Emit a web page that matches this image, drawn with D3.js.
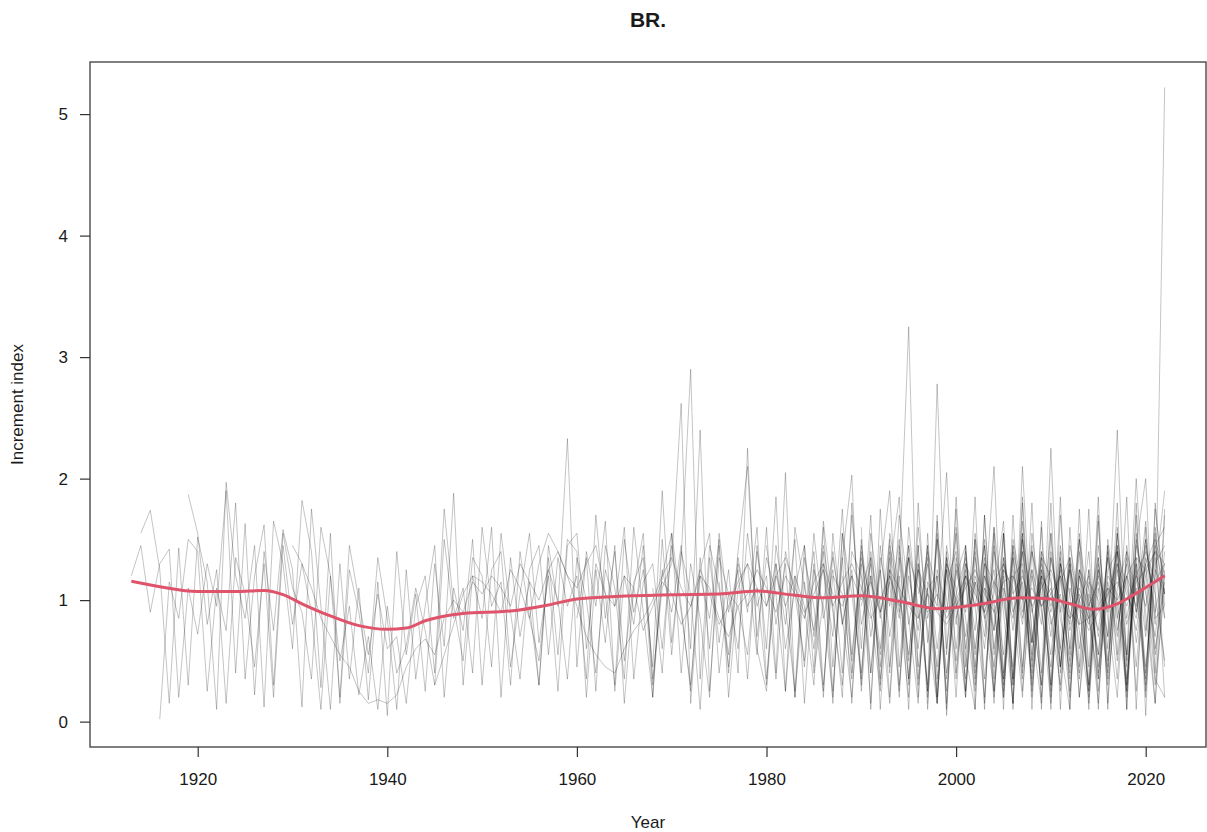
<html>
<head>
  <meta charset="UTF-8">
  <title>BR.</title>
  <script src="https://d3js.org/d3.v7.min.js"></script>
</head>
<style>
body { margin: 0; background: #fff; }
text { font-family: "Liberation Sans", Arial, sans-serif; fill: #1a1a1a; }
.series { fill: none; stroke: #000; stroke-opacity: 0.23; stroke-width: 1; stroke-linejoin: round; }
</style>
<body>
<script>

var width = 1207,
    height = 832;

// first year of each sample series
var startYears = [1913, 1914, 1916, 1919, 1930, 1945, 1955, 1960, 1968, 1975, 1980,
                  1984, 1986, 1988, 1990, 1992, 1994, 1996, 1998, 2000, 2003, 2006,
                  1985, 1990, 1997, 2001];

var s01 = [1.20,1.45,0.90,1.30,1.42,0.20,1.10,
  0.72,1.30,0.95,1.90,0.40,1.63,0.22,1.40,0.75,1.58,
  1.25,0.12,1.75,0.95,0.10,1.30,0.35,1.10,0.18,1.15,
  0.05,1.40,0.55,1.05,0.25,1.30,0.62,1.88,0.30,1.20,
  0.85,1.60,0.20,1.35,0.70,1.15,0.30,1.45,0.95,2.33,
  0.45,1.40,0.95,1.65,0.25,1.20,0.80,1.45,0.35,1.10,
  1.30,2.62,0.15,1.20,0.85,1.50,0.40,1.30,0.95,1.10,
  0.30,1.45,0.95,1.20,0.45,1.30,0.20,1.55,0.80,1.25,
  0.35,1.40,0.90,1.15,0.25,1.60,0.85,1.30,0.20,1.45,
  0.95,1.20,0.40,1.35,0.75,1.55,0.30,1.40,0.90,1.20,
  0.25,1.30,1.05,0.40,1.25,0.70,1.10,0.35,1.45,0.90,
  1.30,0.55,1.20];
var s02 = [1.55,1.74,1.25,0.15,1.43,0.30,
  1.52,1.15,0.10,1.97,1.20,0.85,1.45,0.12,1.65,1.30,
  0.60,1.82,1.40,0.28,1.55,0.15,1.25,0.90,0.40,1.35,
  0.85,0.10,1.25,0.35,0.95,1.45,0.20,1.10,0.75,1.50,
  0.30,1.25,1.40,0.45,1.05,1.55,0.65,1.20,0.25,1.45,
  1.55,0.60,1.30,1.05,0.30,1.50,0.90,1.25,0.45,1.90,
  0.65,1.35,2.90,0.35,1.45,1.10,0.55,1.40,2.10,0.70,
  1.35,1.05,0.25,1.60,1.10,0.75,1.45,0.90,0.30,1.40,
  1.20,0.40,1.35,0.95,1.50,0.30,1.25,1.05,0.45,1.35,
  0.35,1.30,1.10,0.60,1.45,0.25,1.20,1.30,0.55,1.40,
  1.15,0.45,1.30,0.20,0.95,1.35,0.50,1.25,0.80,1.10,
  0.40,1.45,1.05];
var s03 = [0.02,1.15,0.85,1.50,
  1.40,0.25,1.10,0.75,1.80,0.35,1.20,1.62,0.30,1.55,
  1.10,0.90,0.35,1.60,1.20,0.20,1.45,1.00,0.55,1.05,
  0.60,0.70,0.15,0.95,1.20,0.40,1.75,0.95,0.50,1.35,
  1.20,0.45,1.55,0.90,0.35,1.25,1.45,0.55,1.35,0.95,
  1.20,0.35,1.70,0.85,1.40,0.50,1.15,1.35,0.20,1.25,
  0.90,1.45,0.60,2.40,0.25,1.35,1.05,0.60,1.55,0.95,
  1.20,0.35,1.40,1.05,0.50,1.55,0.85,1.25,0.40,1.70,
  0.80,1.20,0.35,1.45,1.05,0.55,1.30,0.25,2.78,0.60,
  1.25,0.90,1.40,0.35,1.15,1.00,0.45,1.50,0.95,0.30,
  1.35,0.85,0.40,1.25,1.00,0.55,1.35,0.90,0.25,1.50,
  1.05,0.70,1.40];
var s04 = [1.87,
  1.55,0.80,1.25,0.15,1.35,1.05,0.45,1.30,0.20,1.45,
  0.80,1.30,0.90,0.10,1.20,0.50,0.95,0.22,0.70,0.10,
  0.95,0.40,0.62,1.10,0.75,0.30,1.50,0.85,1.10,0.40,
  1.60,0.95,1.15,0.30,1.40,0.85,0.50,1.25,1.00,0.35,
  1.35,1.00,0.40,1.25,0.95,1.60,0.35,1.15,1.30,0.60,
  1.45,0.90,0.30,1.25,1.55,0.40,1.05,0.95,0.55,1.40,
  0.95,1.30,0.60,1.10,1.45,0.40,1.00,1.35,0.85,0.20,
  1.35,1.00,0.55,1.25,0.90,1.35,0.45,1.10,1.20,0.40,
  1.05,1.35,0.60,1.20,0.90,0.35,1.40,1.05,0.50,1.30,
  0.90,1.25,0.35,1.00,1.20,0.45,1.25,1.40,0.55,1.15,
  1.25,0.30,1.10];
var s05 = [1.45,1.30,1.10,0.85,0.70,0.55,0.45,0.25,0.15,0.18,
  0.15,0.22,0.45,0.60,0.68,0.55,0.85,1.00,0.90,1.15,
  1.05,1.20,1.10,0.95,1.30,1.15,1.00,1.25,1.40,1.20,
  1.10,1.30,1.45,1.05,0.95,1.20,1.10,0.75,0.95,1.15,
  1.05,0.80,0.95,1.20,1.10,0.85,0.70,0.95,1.05,1.25,
  1.10,0.90,1.20,1.05,0.85,1.15,1.30,1.05,0.95,1.20,
  1.00,1.15,0.90,1.25,1.10,0.95,0.85,1.05,0.90,0.80,
  0.95,1.10,1.25,1.05,0.90,1.15,1.20,1.00,1.10,0.95,
  1.05,1.20,0.90,0.80,0.85,0.95,1.10,1.00,1.20,1.35,
  1.25,1.40,1.30];
var s06 = [0.30,0.55,0.80,1.05,1.20,
  1.15,1.05,0.90,1.25,1.10,0.85,1.30,1.55,1.40,1.20,
  0.95,0.70,0.55,0.45,0.40,0.60,0.75,0.85,1.00,1.20,
  1.35,1.10,0.95,1.25,1.05,0.80,0.95,1.15,1.30,1.10,
  0.95,1.20,1.35,1.10,0.90,1.05,1.25,0.95,1.15,1.30,
  1.10,0.85,1.00,1.20,0.95,1.35,1.10,0.90,1.05,0.85,
  1.00,1.20,1.05,0.90,1.15,1.30,1.05,1.20,0.95,1.10,
  1.25,1.00,0.85,0.95,0.75,0.90,1.05,1.15,0.95,1.20,
  1.40,1.15,1.30];
var s07 = [0.95,0.30,1.35,0.55,1.50,
  1.40,0.20,1.25,0.65,1.45,0.15,1.10,1.55,0.30,1.20,
  1.55,0.40,1.30,0.85,0.20,1.55,0.90,1.25,0.35,1.45,
  0.60,1.85,0.25,1.20,0.95,0.30,1.60,0.45,1.35,0.15,
  1.50,0.40,1.25,0.20,1.45,0.85,0.15,1.55,0.35,1.25,
  0.20,1.45,0.55,1.30,0.15,1.55,0.35,1.25,0.65,1.40,
  0.20,1.35,0.60,1.50,0.15,1.10,0.45,1.40,0.20,1.30,
  0.35,1.55,0.20];
var s08 = [0.85,1.35,0.25,1.45,1.10,0.35,1.60,0.90,0.20,1.50,
  0.55,1.40,1.05,0.10,1.35,0.65,1.25,0.40,2.25,0.60,
  0.25,1.30,0.80,1.50,0.15,1.25,0.95,0.20,1.55,0.55,
  1.30,0.15,1.45,0.70,1.25,3.25,0.35,1.10,0.15,1.35,
  0.90,0.20,1.50,0.85,0.25,1.35,0.75,1.55,0.20,1.25,
  0.70,1.40,0.25,1.20,0.90,0.15,1.45,0.75,1.30,0.25,
  1.45,0.90,1.30];
var s09 = [1.10,0.40,
  1.55,0.95,0.25,1.35,0.60,1.45,0.20,1.10,1.30,0.55,
  1.60,0.40,2.05,0.20,1.35,0.95,0.25,1.40,0.80,1.20,
  0.30,1.55,0.95,0.15,1.35,0.50,1.45,0.20,1.25,0.90,
  1.55,0.25,1.15,0.70,1.60,0.20,1.35,0.45,1.25,0.95,
  0.15,1.45,0.85,1.25,0.25,1.35,0.60,1.55,0.35,1.20,
  0.95,1.35,0.45];
var s10 = [1.15,0.45,1.35,0.90,1.60,
  0.35,1.20,0.95,0.25,1.45,0.70,1.30,0.15,1.55,1.05,
  0.40,1.35,0.85,1.50,0.30,1.20,0.75,1.45,0.20,1.30,
  1.00,0.35,1.55,0.90,1.25,0.40,1.45,0.25,1.20,0.80,
  1.55,0.45,1.25,0.95,0.30,1.45,0.85,0.20,1.40,1.05,
  0.30,1.60,0.85];
var s11 = [1.45,0.80,1.30,0.20,1.15,0.60,1.40,0.25,1.35,2.03,
  0.25,1.20,0.60,1.35,0.20,1.45,0.95,0.30,1.55,0.15,
  1.35,0.85,0.25,1.45,0.60,1.20,0.15,1.50,0.95,0.30,
  2.25,0.40,1.30,0.75,0.20,1.25,0.90,1.45,0.30,1.35,
  0.70,1.45,1.60];
var s12 = [0.85,1.40,0.30,1.20,1.05,0.35,
  1.45,0.90,0.25,1.55,1.10,0.35,1.30,0.75,0.15,1.40,
  0.60,1.30,0.95,0.20,1.40,1.05,0.35,1.55,0.25,1.15,
  0.85,0.30,1.45,1.00,0.25,1.30,0.70,2.40,0.45,1.25,
  0.25,1.20,1.90];
var s13 = [1.25,0.70,1.75,0.40,
  1.10,1.35,0.30,1.20,0.85,1.45,0.20,1.40,1.05,0.25,
  1.20,1.45,0.35,1.10,0.95,0.20,1.50,1.10,0.40,1.35,
  1.20,0.25,1.10,0.80,1.40,0.35,1.20,1.05,0.30,1.45,
  1.10,0.15,1.25];
var s14 = [1.20,0.50,
  1.40,0.70,1.25,1.90,0.45,1.35,0.30,1.15,0.95,2.05,
  0.40,1.25,0.75,1.50,0.25,1.10,0.85,1.40,0.30,1.20,
  1.05,0.45,1.35,0.20,1.15,1.00,0.40,1.55,0.85,1.30,
  0.45,1.25,1.05];
var s15 = [0.95,1.30,0.45,1.40,0.95,0.20,1.60,0.85,1.20,0.35,
  1.30,0.70,1.15,0.95,2.10,0.35,1.20,0.80,1.45,0.20,
  1.40,0.90,1.25,0.35,1.05,0.75,1.35,0.50,1.20,0.95,
  1.50,0.85,0.95];
var s16 = [1.25,0.40,1.70,1.05,0.60,1.45,0.15,1.30,
  1.10,0.20,1.35,0.85,1.05,1.65,0.30,2.10,0.65,1.20,
  0.30,1.30,0.75,1.10,0.85,0.35,1.50,0.95,0.55,2.00,
  0.75,1.30,1.45];
var s17 = [1.40,0.80,1.25,0.25,1.50,1.00,
  0.50,1.20,0.95,1.45,0.20,1.25,1.10,0.35,1.55,0.90,
  0.45,1.15,1.35,0.60,1.25,0.40,1.05,1.30,0.25,1.45,
  2.00,0.40,1.75];
var s18 = [1.05,1.35,0.60,1.25,
  0.80,1.40,0.45,1.20,1.00,0.30,1.35,0.90,1.25,0.40,
  1.35,0.95,0.20,1.25,1.10,0.55,1.40,0.85,1.20,0.45,
  1.35,1.05,0.50];
var s19 = [0.30,1.15,
  1.40,0.60,1.20,0.90,0.45,1.35,0.95,0.20,1.40,1.05,
  0.55,1.30,0.80,1.50,0.95,0.25,1.15,0.70,1.35,0.90,
  1.65,0.60,1.15];
var s20 = [0.85,1.15,0.30,1.30,1.15,0.55,1.45,1.00,0.35,1.25,
  0.95,1.20,0.45,1.05,0.85,1.25,0.30,1.10,1.40,0.65,
  1.20,1.40,0.85];
var s21 = [1.10,0.75,1.30,0.90,1.15,0.65,1.35,
  0.80,1.05,0.50,1.20,0.95,1.15,0.70,1.30,1.05,0.85,
  1.50,0.80,5.22];
var s22 = [1.25,0.85,1.40,0.95,
  1.10,0.60,1.35,1.00,0.80,1.20,0.95,1.40,1.10,0.75,
  1.30,1.50,1.20];
var s23 = [0.45,1.65,0.95,0.20,1.80,
  0.60,1.70,0.10,1.25,1.85,0.35,1.45,0.10,1.65,0.55,
  1.75,0.25,1.50,0.10,1.60,0.90,0.15,1.85,0.45,1.60,
  0.10,1.70,0.55,1.40,0.10,1.65,0.35,1.80,0.10,1.55,
  0.90,0.15,1.70];
var s24 = [1.60,0.10,1.75,0.45,1.20,0.10,1.80,0.65,1.50,0.10,
  1.85,0.55,0.10,1.70,0.35,1.55,0.10,1.65,0.75,0.15,
  1.80,0.10,1.60,0.45,1.75,0.10,1.45,0.55,1.85,0.10,
  1.60,0.35,0.20];
var s25 = [0.15,1.70,0.05,
  1.60,0.45,1.85,0.15,1.55,0.10,1.70,0.40,1.80,0.10,
  1.55,0.60,0.10,1.75,0.30,1.85,0.10,1.60,0.50,1.70,
  0.05,1.80,0.95];
var s26 = [1.45,0.10,1.70,0.55,1.25,0.15,1.80,0.10,1.65,
  0.30,1.85,0.10,1.55,0.45,1.70,0.15,1.45,0.10,1.80,
  0.20,1.75,1.05];

var seriesValues = [s01, s02, s03, s04, s05, s06, s07, s08, s09, s10, s11, s12, s13,
                    s14, s15, s16, s17, s18, s19, s20, s21, s22, s23, s24, s25, s26];

// smoothed mean (red spline)
var smoothYears = [1913, 1916, 1920, 1924, 1927, 1929, 1931, 1934, 1937, 1940, 1942, 1944,
                   1948, 1953, 1957, 1960, 1964, 1970, 1975, 1979, 1983, 1986, 1990, 1994,
                   1998, 2002, 2007, 2010, 2012, 2014.5, 2017, 2019.3, 2022];
var smoothVals  = [1.155, 1.11, 1.07, 1.07, 1.08, 1.045, 0.97, 0.87, 0.79, 0.76, 0.77, 0.83,
                   0.89, 0.91, 0.96, 1.01, 1.03, 1.045, 1.05, 1.075, 1.04, 1.02, 1.035, 0.99,
                   0.93, 0.96, 1.02, 1.01, 0.97, 0.925, 0.97, 1.07, 1.20];

var xTicks = [1920, 1940, 1960, 1980, 2000, 2020];
var yTicks = [0, 1, 2, 3, 4, 5];

var plotLeft = 90, plotRight = 1206, plotTop = 62, plotBottom = 747;

var series = seriesValues.map(function(vals, i) {
  return vals.map(function(v, j) { return {year: startYears[i] + j, value: v}; });
});

var yMax = d3.max(seriesValues, function(s) { return d3.max(s); });
var x0 = 1913, x1 = 2022, xpad = (x1 - x0) * 0.04;

var x = d3.scaleLinear()
  .domain([x0 - xpad, x1 + xpad])
  .range([plotLeft, plotRight]);

var y = d3.scaleLinear()
  .domain([-yMax * 0.04, yMax * 1.04])
  .range([plotBottom, plotTop]);

var svg = d3.select('body')
  .append('svg')
  .attr('width', width)
  .attr('height', height);

var line = d3.line()
  .x(function(d) { return x(d.year); })
  .y(function(d) { return y(d.value); });

svg.append('g')
  .selectAll('path')
  .data(series)
  .enter()
  .append('path')
  .attr('class', 'series')
  .attr('d', line);

var smooth = d3.line()
  .x(function(d) { return x(d[0]); })
  .y(function(d) { return y(d[1]); })
  .curve(d3.curveMonotoneX);

svg.append('path')
  .datum(d3.zip(smoothYears, smoothVals))
  .attr('fill', 'none')
  .attr('stroke', '#DF536B')
  .attr('stroke-width', 3)
  .attr('d', smooth);

// box
svg.append('rect')
  .attr('x', plotLeft)
  .attr('y', plotTop)
  .attr('width', plotRight - plotLeft)
  .attr('height', plotBottom - plotTop)
  .attr('fill', 'none')
  .attr('stroke', '#555')
  .attr('stroke-width', 1.5);

var xAxis = svg.append('g')
  .attr('transform', 'translate(0,' + plotBottom + ')')
  .call(d3.axisBottom(x).tickValues(xTicks).tickFormat(d3.format('d')).tickSizeInner(10).tickSizeOuter(0).tickPadding(16));

var yAxis = svg.append('g')
  .attr('transform', 'translate(' + plotLeft + ',0)')
  .call(d3.axisLeft(y).tickValues(yTicks).tickFormat(d3.format('d')).tickSizeInner(10).tickSizeOuter(0).tickPadding(12));

[xAxis, yAxis].forEach(function(a) {
  a.select('.domain').remove();
  a.selectAll('line').attr('stroke', '#333').attr('stroke-width', 1.2);
  a.selectAll('text').style('font-size', '17px').style('font-family', '"Liberation Sans", Arial, sans-serif').attr('fill', '#1a1a1a');
});

svg.append('text')
  .attr('x', (plotLeft + plotRight) / 2)
  .attr('y', 27)
  .attr('text-anchor', 'middle')
  .style('font-size', '21px')
  .style('font-weight', 'bold')
  .text('BR.');

svg.append('text')
  .attr('x', (plotLeft + plotRight) / 2)
  .attr('y', 828)
  .attr('text-anchor', 'middle')
  .style('font-size', '17px')
  .text('Year');

svg.append('text')
  .attr('transform', 'translate(23,' + ((plotTop + plotBottom) / 2) + ') rotate(-90)')
  .attr('text-anchor', 'middle')
  .style('font-size', '17px')
  .text('Increment index');

</script>
</body>
</html>
